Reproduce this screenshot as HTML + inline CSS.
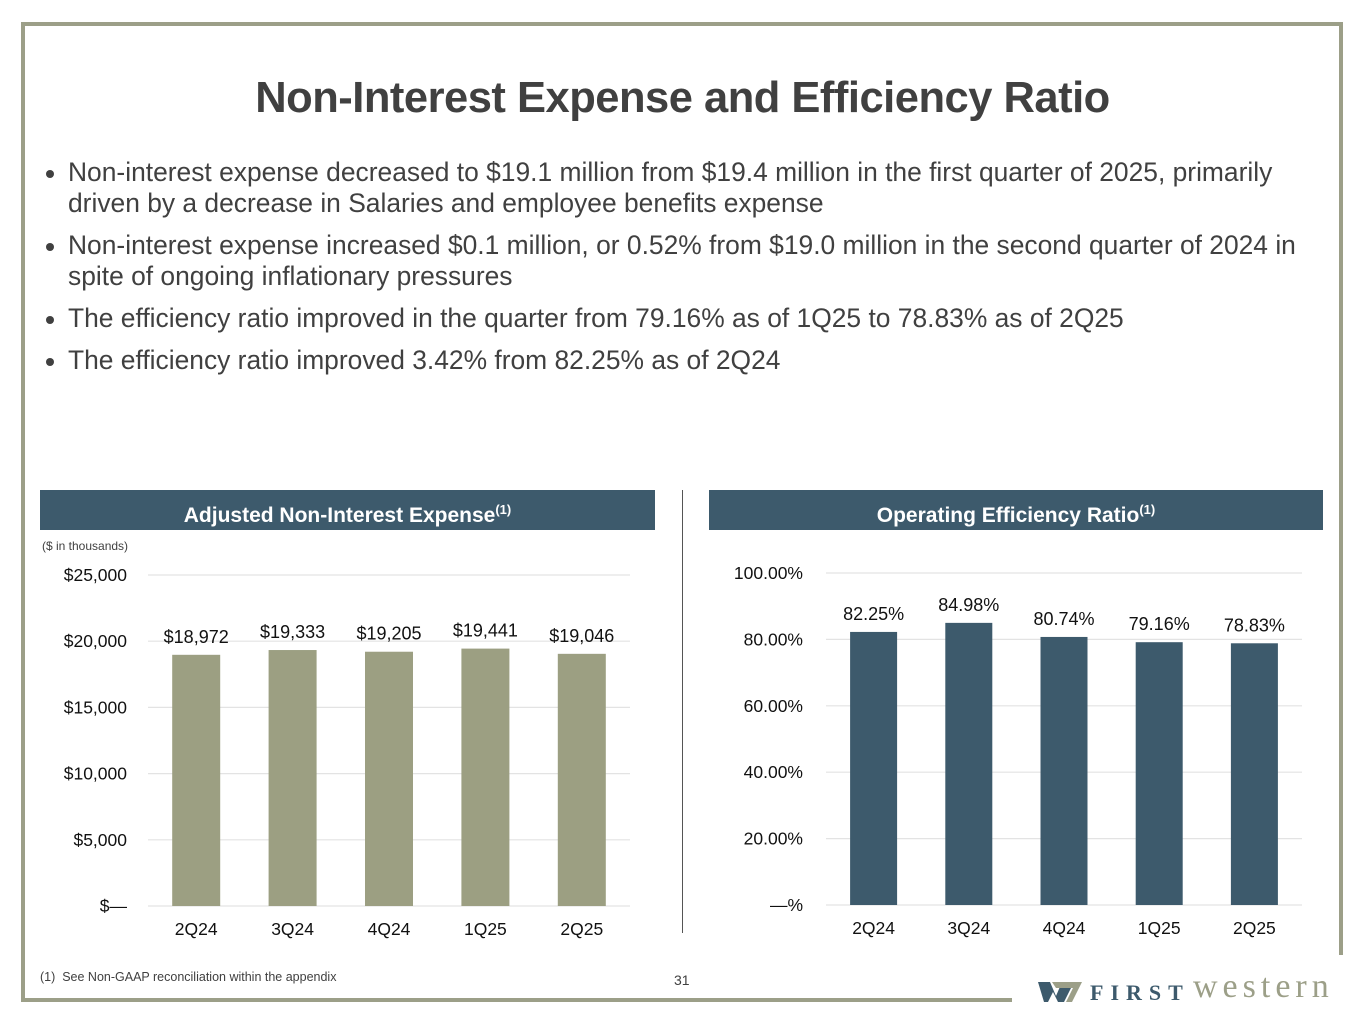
<!DOCTYPE html>
<html><head><meta charset="utf-8"><style>
body{margin:0;width:1365px;height:1024px;background:#fff;position:relative;overflow:hidden;font-family:"Liberation Sans",sans-serif;color:#404040}
.abs{position:absolute}
.title{left:0;width:1365px;top:74px;text-align:center;font-size:43.5px;font-weight:bold;color:#404040;letter-spacing:-0.5px}
.bul{left:46px;font-size:26.4px;line-height:31px;width:1290px;white-space:nowrap}
.bul li{margin:0 0 11px 0;padding-left:22px;list-style:none;position:relative;letter-spacing:0px}
.bul li:before{content:"";position:absolute;left:0;top:13px;width:8px;height:8px;border-radius:50%;background:#404040}
.hdr{height:40px;top:490px;background:#3d5a6c;color:#fff;font-weight:bold;font-size:21px;line-height:40px;text-align:center}
.hdr sup{font-size:13px}
svg text{font-family:"Liberation Sans",sans-serif}
</style></head><body>
<div class="abs" style="left:21px;top:22px;width:1322px;height:4px;background:#9c9f88"></div>
<div class="abs" style="left:21px;top:22px;width:4px;height:980px;background:#9c9f88"></div>
<div class="abs" style="left:1339px;top:22px;width:4px;height:933px;background:#9c9f88"></div>
<div class="abs" style="left:21px;top:998px;width:991px;height:4px;background:#9c9f88"></div>
<div class="abs title">Non-Interest Expense and Efficiency Ratio</div>
<ul class="abs bul" style="top:157px;margin:0;padding:0">
<li>Non-interest expense decreased to $19.1 million from $19.4 million in the first quarter of 2025, primarily<br>driven by a decrease in Salaries and employee benefits expense</li>
<li>Non-interest expense increased $0.1 million, or 0.52% from $19.0 million in the second quarter of 2024 in<br>spite of ongoing inflationary pressures</li>
<li>The efficiency ratio improved in the quarter from 79.16% as of 1Q25 to 78.83% as of 2Q25</li>
<li>The efficiency ratio improved 3.42% from 82.25% as of 2Q24</li>
</ul>
<div class="abs hdr" style="left:40px;width:615px">Adjusted Non-Interest Expense<sup>(1)</sup></div>
<div class="abs hdr" style="left:709px;width:614px">Operating Efficiency Ratio<sup>(1)</sup></div>
<div class="abs" style="left:42px;top:539px;font-size:12px">($ in thousands)</div>
<div class="abs" style="left:682px;top:490px;width:1px;height:443px;background:#555"></div>
<svg class="abs" style="left:0;top:0" width="1365" height="1024">
<g id="c1"></g>
<g id="c2"></g>
</svg>
<div class="abs" style="left:40px;top:970px;font-size:12.5px">(1)&nbsp; See Non-GAAP reconciliation within the appendix</div>
<div class="abs" style="left:674px;top:972px;font-size:14px">31</div>
<div class="abs" style="left:1038px;top:976px;width:320px;height:30px">
<svg width="44" height="24" style="position:absolute;left:0;top:4px"><polygon points="0,2 12,2 18,16 24,2 30,2 36,2 26,22 20,22 15,12 10,22 6,22" fill="#3d5a6c"/><polygon points="14,2 44,2 34,22 28,22 35,8 18,8" fill="#9c9f88"/></svg>
<span style="position:absolute;left:52px;top:4px;font-family:'Liberation Serif',serif;font-weight:bold;font-size:22px;letter-spacing:7px;color:#3d5a6c;white-space:nowrap">FIRST</span><span style="position:absolute;left:155px;top:-8px;font-family:'Liberation Serif',serif;font-size:34px;letter-spacing:5px;color:#9c9f88;white-space:nowrap">western</span>
</div>
<script>
const cats=["2Q24","3Q24","4Q24","1Q25","2Q25"];
const expense=[18972,19333,19205,19441,19046];
const expenseLabels=["$18,972","$19,333","$19,205","$19,441","$19,046"];
const expTicks=[0,5000,10000,15000,20000,25000];
const expTickLabels=["$—","$5,000","$10,000","$15,000","$20,000","$25,000"];
const ratio=[82.25,84.98,80.74,79.16,78.83];
const ratioLabels=["82.25%","84.98%","80.74%","79.16%","78.83%"];
const ratioTicks=[0,20,40,60,80,100];
const ratioTickLabels=["—%","20.00%","40.00%","60.00%","80.00%","100.00%"];
const NS="http://www.w3.org/2000/svg";
function mk(p,t,a,txt){const e=document.createElementNS(NS,t);for(const k in a)e.setAttribute(k,a[k]);if(txt!=null)e.textContent=txt;p.appendChild(e);return e;}
function chart(g,o){
  const y=v=>o.y0-(v-o.min)/(o.max-o.min)*(o.y0-o.y1);
  const step=(o.x1-o.x0)/cats.length;
  o.ticks.forEach((t,i)=>{
    const l=mk(g,'line',{x1:o.x0,x2:o.x1,y1:y(t),y2:y(t),stroke:'#e3e3e3','stroke-width':1.2});
    
    
    const tx=mk(g,'text',{x:o.lx,y:y(t)+6,'text-anchor':'end','font-size':17.5,fill:'#111'},o.tickLabels[i]);
    
    
  });
  o.vals.forEach((v,i)=>{
    const cx=o.x0+step*(i+0.5);
    const r=mk(g,'rect',{x:cx-o.bw/2,y:y(v),width:o.bw,height:y(o.min)-y(v),fill:o.color});
    
    
    const t=mk(g,'text',{x:cx,y:y(v)-12,'text-anchor':'middle','font-size':18,fill:'#111'},o.labels[i]);
    
    
    const c=mk(g,'text',{x:cx,y:o.y0+29,'text-anchor':'middle','font-size':17.5,fill:'#111'},cats[i]);
    
    
  });
}
chart(document.getElementById('c1'),{x0:148,x1:630,y0:906,y1:575,min:0,max:25000,ticks:expTicks,tickLabels:expTickLabels,vals:expense,labels:expenseLabels,bw:48,color:'#9c9f82',lx:127});
chart(document.getElementById('c2'),{x0:826,x1:1302,y0:905,y1:573,min:0,max:100,ticks:ratioTicks,tickLabels:ratioTickLabels,vals:ratio,labels:ratioLabels,bw:47,color:'#3d5a6c',lx:803});
</script>
</body></html>
